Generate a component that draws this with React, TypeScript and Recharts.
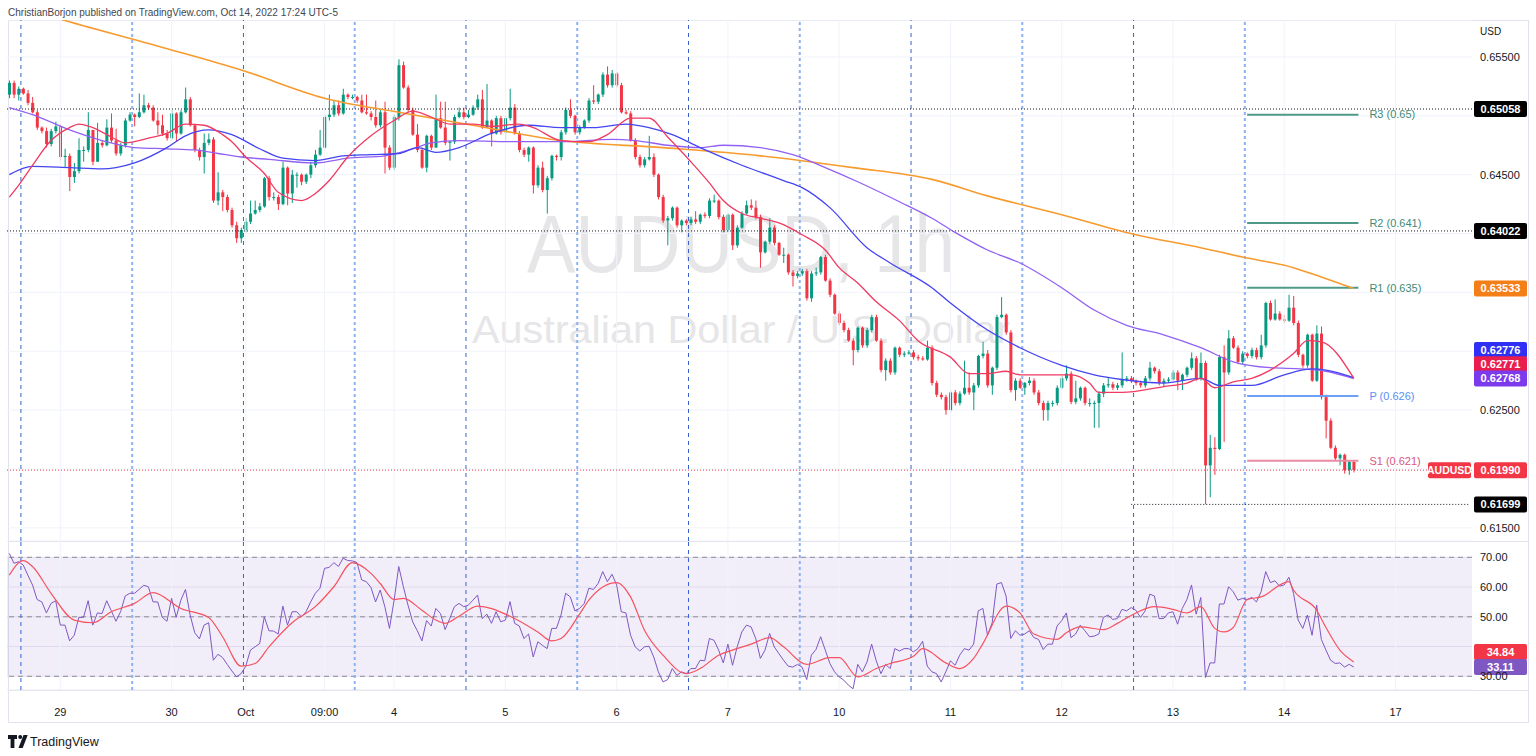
import React from "react";
import {
  ComposedChart,
  Bar,
  Line,
  XAxis,
  YAxis,
  CartesianGrid,
  ReferenceLine,
  ReferenceArea,
} from "recharts";

const GREEN = "#089981";
const RED = "#f23645";
const GRID = "#f0f3fa";

// hourly AUDUSD bars, Sep 28 13:00 -> Oct 14 15:00 (weekend removed)
const firstOpen = 0.6518;
const closes = [
  0.6528, 0.6518, 0.6523, 0.6519, 0.6511, 0.6503, 0.649, 0.6487, 0.6476, 0.6487,
  0.6491, 0.6465, 0.6466, 0.6448, 0.6453, 0.6471, 0.6471, 0.6488, 0.6461, 0.6477,
  0.6475, 0.649, 0.6479, 0.6468, 0.6475, 0.6496, 0.6501, 0.6499, 0.6503, 0.6509,
  0.6507, 0.6496, 0.6492, 0.6485, 0.6481, 0.6502, 0.6485, 0.6503, 0.6514, 0.6492,
  0.6471, 0.6465, 0.6477, 0.648, 0.6428, 0.6435, 0.6431, 0.642, 0.6407, 0.6396,
  0.6403, 0.641, 0.6417, 0.642, 0.6423, 0.6447, 0.6431, 0.6431, 0.6425, 0.6456,
  0.6434, 0.645, 0.645, 0.6444, 0.645, 0.6458, 0.6467, 0.6473, 0.6499, 0.6501,
  0.6509, 0.6502, 0.6518, 0.6516, 0.6516, 0.6513, 0.6503, 0.6502, 0.6499, 0.6492,
  0.6503, 0.6473, 0.6456, 0.6499, 0.6543, 0.6524, 0.6505, 0.6484, 0.6471, 0.6456,
  0.6483, 0.6473, 0.6498, 0.649, 0.6477, 0.6478, 0.6499, 0.6503, 0.6499, 0.6501,
  0.6507, 0.6514, 0.649, 0.6496, 0.6485, 0.6498, 0.6486, 0.6498, 0.6507, 0.6485,
  0.6471, 0.6467, 0.6473, 0.6441, 0.6456, 0.6437, 0.6447, 0.6466, 0.6465, 0.6486,
  0.6505, 0.65, 0.6486, 0.649, 0.6496, 0.6513, 0.6512, 0.6518, 0.6535, 0.6526,
  0.6536, 0.6526, 0.6503, 0.6502, 0.6479, 0.6465, 0.6458, 0.6463, 0.6465, 0.645,
  0.6431, 0.6411, 0.6413, 0.6422, 0.6407, 0.6411, 0.6409, 0.6412, 0.641, 0.6416,
  0.6415, 0.6428, 0.6428, 0.6414, 0.6403, 0.6416, 0.639, 0.6405, 0.6417, 0.6424,
  0.6422, 0.6414, 0.6384, 0.6393, 0.6405, 0.6392, 0.6382, 0.6382, 0.6367, 0.6364,
  0.6366, 0.6368, 0.6345, 0.6366, 0.6367, 0.638, 0.636, 0.6348, 0.6332, 0.6324,
  0.6318, 0.6309, 0.6301, 0.632, 0.6305, 0.6318, 0.6329, 0.6309, 0.6284, 0.6292,
  0.6282, 0.6303, 0.6297, 0.6298, 0.6299, 0.6295, 0.6294, 0.6293, 0.6303, 0.6273,
  0.6263, 0.6261, 0.625, 0.6265, 0.6256, 0.6264, 0.6269, 0.6265, 0.6271, 0.6296,
  0.6298, 0.6271, 0.6286, 0.6329, 0.6331, 0.6316, 0.6267, 0.6275, 0.6269, 0.6273,
  0.6275, 0.6265, 0.6256, 0.625, 0.6256, 0.6256, 0.6269, 0.6277, 0.6281, 0.6257,
  0.626, 0.6269, 0.6256, 0.6256, 0.6256, 0.6264, 0.6271, 0.6272, 0.6269, 0.6271,
  0.6276, 0.6277, 0.6275, 0.6273, 0.6271, 0.6277, 0.6286, 0.6283, 0.6273, 0.6275,
  0.6276, 0.6282, 0.6275, 0.628, 0.6286, 0.6294, 0.6277, 0.629, 0.6203, 0.6218,
  0.6217, 0.6295, 0.6282, 0.6311, 0.6303, 0.6291, 0.6298, 0.6296, 0.6301, 0.6295,
  0.6305, 0.6341, 0.6327, 0.6332, 0.6327, 0.6326, 0.6337, 0.6324, 0.6297, 0.6288,
  0.6314, 0.6275, 0.6315, 0.6261, 0.6241, 0.6218, 0.6209, 0.6212, 0.6199, 0.6206,
  0.6199,
];
const highs = [
  0.653, 0.653, 0.6525, 0.6524, 0.6522, 0.6516, 0.6505, 0.6491, 0.649, 0.6489,
  0.6495, 0.6493, 0.6472, 0.6468, 0.646, 0.6481, 0.6474, 0.6503, 0.6485, 0.6494,
  0.6479, 0.6497, 0.6502, 0.6489, 0.6477, 0.6498, 0.6503, 0.6502, 0.6519, 0.6518,
  0.6511, 0.6509, 0.6503, 0.6501, 0.6488, 0.6505, 0.6503, 0.6505, 0.6524, 0.6516,
  0.6493, 0.6473, 0.6485, 0.6485, 0.6482, 0.6452, 0.6437, 0.6433, 0.6422, 0.641,
  0.6405, 0.6413, 0.6428, 0.6428, 0.6426, 0.6448, 0.6449, 0.6435, 0.6433, 0.6461,
  0.6457, 0.6454, 0.6452, 0.6451, 0.6451, 0.6461, 0.6471, 0.6488, 0.6501, 0.6518,
  0.6513, 0.6513, 0.6523, 0.6519, 0.6518, 0.6517, 0.6518, 0.6518, 0.6504, 0.6513,
  0.6505, 0.6512, 0.6475, 0.6501, 0.6548, 0.6546, 0.6526, 0.6507, 0.6493, 0.6473,
  0.6484, 0.6484, 0.6518, 0.6512, 0.6512, 0.6479, 0.6501, 0.6507, 0.6507, 0.6505,
  0.6509, 0.6518, 0.6522, 0.6527, 0.6497, 0.65, 0.65, 0.65, 0.6523, 0.651,
  0.6487, 0.6473, 0.6474, 0.6474, 0.6458, 0.6461, 0.6449, 0.6467, 0.6467, 0.6488,
  0.6507, 0.6514, 0.6501, 0.6492, 0.6497, 0.6515, 0.6526, 0.6519, 0.6537, 0.6542,
  0.6539, 0.6537, 0.6528, 0.6505, 0.6504, 0.6481, 0.6467, 0.6465, 0.6483, 0.6468,
  0.6451, 0.6433, 0.6415, 0.6423, 0.6423, 0.6412, 0.6412, 0.6414, 0.6419, 0.6417,
  0.6418, 0.643, 0.6433, 0.6429, 0.6416, 0.6417, 0.6417, 0.6407, 0.6419, 0.6428,
  0.6429, 0.6428, 0.6416, 0.6394, 0.6413, 0.6407, 0.6393, 0.6388, 0.6383, 0.6369,
  0.6368, 0.637, 0.637, 0.6368, 0.6371, 0.6381, 0.6382, 0.6362, 0.6349, 0.6334,
  0.6326, 0.632, 0.6311, 0.6321, 0.6321, 0.632, 0.6331, 0.6331, 0.6311, 0.6294,
  0.6294, 0.6304, 0.6304, 0.63, 0.6301, 0.6301, 0.6297, 0.6296, 0.6309, 0.6305,
  0.6275, 0.6265, 0.6263, 0.6267, 0.6267, 0.6266, 0.6292, 0.6282, 0.6273, 0.6297,
  0.6308, 0.6301, 0.6287, 0.6331, 0.6346, 0.6332, 0.6318, 0.6277, 0.6277, 0.6274,
  0.6278, 0.6277, 0.6267, 0.6258, 0.6258, 0.6258, 0.6271, 0.6279, 0.6288, 0.6283,
  0.6275, 0.627, 0.627, 0.626, 0.6258, 0.6266, 0.6273, 0.6278, 0.6274, 0.6273,
  0.6299, 0.6279, 0.6279, 0.6276, 0.6275, 0.6279, 0.6291, 0.6287, 0.6285, 0.6277,
  0.6278, 0.6284, 0.6284, 0.6281, 0.6287, 0.6299, 0.6296, 0.6299, 0.6292, 0.6229,
  0.6227, 0.6297, 0.6305, 0.6318, 0.6313, 0.6305, 0.63, 0.6299, 0.6303, 0.6303,
  0.6314, 0.6342, 0.6343, 0.6344, 0.6334, 0.6331, 0.6348, 0.6347, 0.6326, 0.6298,
  0.6315, 0.6315, 0.6322, 0.6321, 0.6263, 0.6243, 0.622, 0.6213, 0.6213, 0.6207,
  0.6207,
];
const lows = [
  0.6515, 0.6515, 0.6513, 0.6518, 0.6509, 0.6502, 0.6488, 0.6485, 0.6473, 0.6474,
  0.6485, 0.6462, 0.6456, 0.6436, 0.6443, 0.6451, 0.6461, 0.6469, 0.6458, 0.6461,
  0.6473, 0.6474, 0.6477, 0.6466, 0.6466, 0.6473, 0.6495, 0.6491, 0.6498, 0.6502,
  0.6505, 0.6495, 0.6484, 0.6483, 0.6479, 0.648, 0.6478, 0.6484, 0.6502, 0.6491,
  0.6469, 0.6462, 0.6451, 0.6475, 0.6426, 0.6424, 0.6419, 0.6418, 0.6405, 0.6392,
  0.6392, 0.6401, 0.6408, 0.6416, 0.6418, 0.6422, 0.6428, 0.6428, 0.642, 0.6424,
  0.6424, 0.6426, 0.6439, 0.6441, 0.6442, 0.6447, 0.6456, 0.6466, 0.6472, 0.6496,
  0.6499, 0.65, 0.6501, 0.6514, 0.6514, 0.6511, 0.6502, 0.6501, 0.6496, 0.649,
  0.649, 0.6451, 0.6454, 0.6454, 0.6496, 0.6523, 0.6503, 0.6483, 0.6469, 0.6455,
  0.6452, 0.6471, 0.6473, 0.6489, 0.6475, 0.6462, 0.6476, 0.6498, 0.6497, 0.6498,
  0.65, 0.6505, 0.6489, 0.649, 0.6474, 0.6484, 0.6484, 0.6479, 0.6496, 0.6484,
  0.6469, 0.6465, 0.6461, 0.6434, 0.6439, 0.6435, 0.6417, 0.6445, 0.6462, 0.6462,
  0.6484, 0.6498, 0.6484, 0.6484, 0.6489, 0.6494, 0.651, 0.651, 0.6516, 0.6524,
  0.6524, 0.6524, 0.6502, 0.6501, 0.6478, 0.6463, 0.6456, 0.6456, 0.6462, 0.6448,
  0.6429, 0.6409, 0.639, 0.6411, 0.6405, 0.6401, 0.6407, 0.6407, 0.6408, 0.6408,
  0.6413, 0.6413, 0.6426, 0.6412, 0.6401, 0.6401, 0.6386, 0.6388, 0.6404, 0.6416,
  0.642, 0.6412, 0.6371, 0.6383, 0.6391, 0.639, 0.6381, 0.6375, 0.6365, 0.6355,
  0.6362, 0.6364, 0.6343, 0.6342, 0.6364, 0.6365, 0.6359, 0.6346, 0.6331, 0.6322,
  0.6316, 0.6308, 0.6288, 0.6299, 0.6303, 0.6303, 0.6316, 0.6308, 0.6282, 0.6275,
  0.628, 0.628, 0.6295, 0.6295, 0.6297, 0.6293, 0.6292, 0.6292, 0.6292, 0.6271,
  0.6261, 0.6259, 0.6246, 0.6248, 0.6254, 0.6254, 0.6263, 0.6263, 0.625, 0.6269,
  0.6294, 0.6269, 0.6263, 0.6284, 0.6328, 0.6314, 0.6265, 0.6258, 0.6268, 0.6263,
  0.6271, 0.6263, 0.6254, 0.6241, 0.6241, 0.6253, 0.6254, 0.6268, 0.6275, 0.6255,
  0.6255, 0.6258, 0.6254, 0.6253, 0.6235, 0.6235, 0.6261, 0.6269, 0.6267, 0.6267,
  0.6269, 0.6274, 0.6273, 0.6271, 0.6269, 0.6269, 0.6275, 0.6281, 0.6271, 0.627,
  0.6273, 0.6275, 0.6267, 0.6267, 0.6278, 0.6284, 0.6275, 0.6275, 0.617, 0.6176,
  0.6195, 0.6216, 0.6223, 0.628, 0.6302, 0.6289, 0.6289, 0.6294, 0.6294, 0.6293,
  0.6293, 0.6303, 0.6326, 0.6326, 0.6326, 0.6324, 0.6325, 0.6322, 0.6295, 0.6286,
  0.6286, 0.6274, 0.6274, 0.6259, 0.6226, 0.6217, 0.6207, 0.6203, 0.6196, 0.6195,
  0.6197,
];

// moving averages, read at [bar, price]
const maRed: [number, number][] = [
  [0, 0.6431], [2, 0.6441], [5, 0.6458], [9, 0.6479], [13, 0.649], [15, 0.6493],
  [18, 0.649], [22, 0.6482], [25, 0.6477], [30, 0.6481], [34, 0.6485], [38, 0.6493],
  [42, 0.6492], [46, 0.6484], [48, 0.6478], [51, 0.6465], [55, 0.6451], [58, 0.6435],
  [63, 0.6428], [66, 0.6434], [69, 0.6445], [73, 0.6465], [78, 0.6483], [83, 0.6496],
  [87, 0.6504], [91, 0.6499], [95, 0.6493], [100, 0.6493], [104, 0.6491], [110, 0.6493],
  [113, 0.649], [119, 0.6479], [125, 0.6478], [129, 0.6484], [134, 0.6498], [138, 0.6498],
  [142, 0.6482], [147, 0.6461], [151, 0.6443], [154, 0.6428], [158, 0.6417], [162, 0.6413],
  [166, 0.6409], [171, 0.6399], [176, 0.6386], [179, 0.6371], [183, 0.6358], [187, 0.6342],
  [192, 0.6326], [196, 0.6309], [203, 0.6295], [207, 0.6281], [211, 0.6281], [215, 0.6283],
  [218, 0.628], [225, 0.628], [229, 0.628], [233, 0.6273], [235, 0.6265], [240, 0.6265],
  [249, 0.627], [254, 0.6273], [257, 0.6277], [260, 0.6269], [264, 0.6274], [268, 0.6277],
  [272, 0.6284], [277, 0.6298], [280, 0.6309], [283, 0.6308], [290, 0.62771],
];
const maBlue: [number, number][] = [
  [0, 0.645], [5, 0.6457], [13, 0.6456], [20, 0.6455], [23, 0.6456], [27, 0.646],
  [34, 0.6473], [38, 0.6483], [43, 0.6488], [48, 0.6484], [54, 0.6472], [59, 0.6464],
  [66, 0.6462], [72, 0.6466], [78, 0.6467], [84, 0.6468], [88, 0.6473], [92, 0.6469],
  [97, 0.6473], [104, 0.6485], [112, 0.6492], [119, 0.649], [126, 0.649], [133, 0.6493],
  [138, 0.649], [143, 0.6484], [149, 0.6473], [158, 0.6458], [167, 0.6445], [171, 0.6439],
  [177, 0.6422], [185, 0.6388], [190, 0.6375], [199, 0.6354], [203, 0.6341], [211, 0.6318],
  [218, 0.6303], [227, 0.6288], [234, 0.628], [240, 0.6276], [249, 0.6273], [257, 0.6277],
  [261, 0.6271], [268, 0.6271], [275, 0.628], [281, 0.6285], [284, 0.6284], [290, 0.62776],
];
const maPurple: [number, number][] = [
  [0, 0.6507], [5, 0.6501], [13, 0.6488], [20, 0.6479], [27, 0.6473], [34, 0.6472],
  [40, 0.6471], [45, 0.6468], [50, 0.6465], [56, 0.6463], [66, 0.646], [73, 0.6464],
  [81, 0.6466], [87, 0.6472], [91, 0.6477], [97, 0.6479], [108, 0.6478], [119, 0.6478],
  [130, 0.648], [135, 0.6479], [142, 0.6475], [149, 0.6473], [154, 0.6475], [162, 0.6473],
  [169, 0.6467], [176, 0.6456], [183, 0.6444], [192, 0.6427], [199, 0.6413], [204, 0.6401],
  [211, 0.6386], [218, 0.6375], [227, 0.6354], [234, 0.6335], [241, 0.6322], [249, 0.6314],
  [257, 0.6303], [264, 0.6291], [272, 0.6286], [279, 0.6285], [284, 0.6283], [290, 0.62768],
];
const maOrange: [number, number][] = [
  [0, 0.6595], [12, 0.6581], [35, 0.6556], [50, 0.6539], [68, 0.6515], [84, 0.6503],
  [100, 0.6492], [119, 0.6479], [141, 0.6473], [162, 0.6466], [182, 0.6456], [199, 0.6446],
  [211, 0.6432], [227, 0.6416], [243, 0.6399], [257, 0.6388], [266, 0.638], [277, 0.6371],
  [283, 0.6363], [290, 0.63533],
];

// RSI(14) per bar and its moving average
const rsi = [
  71.3, 68, 68.5, 67.4, 64, 60.7, 55.8, 55, 51.3, 54.5,
  55.4, 47.2, 47.2, 41.9, 43.8, 49.8, 49.8, 55.4, 47.2, 51.3,
  51.1, 55.4, 52, 48.5, 51.7, 57, 57.9, 57.9, 59.2, 60.6,
  60.1, 55, 55, 49.8, 48.5, 56.2, 49.8, 55.6, 59.2, 50.6,
  44.6, 42.6, 47.2, 48, 35.4, 37.4, 36.3, 34, 31.8, 29.8,
  30.9, 33.4, 38.8, 39.9, 41, 50, 45.3, 45.2, 44.2, 53.6,
  47.2, 51.7, 51.7, 50, 51.7, 55, 57.9, 59.6, 66.3, 66.6,
  68.2, 66.9, 69.7, 68.9, 68.8, 68.2, 62.4, 61.8, 59.9, 55,
  59, 53.4, 46.1, 55.6, 66.9, 60.1, 53.9, 48.3, 45.3, 41.9,
  48.7, 46.9, 52.8, 51.1, 45.7, 49.4, 53.4, 54.5, 53.4, 53.9,
  55.6, 57.3, 49.4, 50.9, 47.8, 51.7, 48.3, 48.9, 55.1, 47.8,
  46.9, 42.7, 44.2, 36.5, 41.6, 40.4, 39.3, 46.1, 46.1, 50.6,
  57.9, 56.7, 52, 52.8, 54.5, 59.6, 59.2, 61.2, 65.2, 61.8,
  64.3, 60.7, 51.7, 51.3, 43.8, 39.9, 38.5, 39.9, 40.1, 36.5,
  31.5, 28.1, 28.9, 32.6, 30.3, 31.5, 30.9, 32.6, 32.6, 35.4,
  35.2, 42.7, 42.1, 38.8, 34.5, 40.8, 33.7, 39.9, 44.9, 47.2,
  46.6, 42.7, 36, 38.8, 44.4, 39.9, 37.6, 35.4, 33.4, 33.1,
  34, 33.1, 28.9, 37.1, 39, 43.3, 38.8, 34.3, 31.5, 29.8,
  28.7, 27, 25.8, 34, 31.5, 34.8, 40.8, 35.2, 30.9, 34,
  32.6, 39.3, 38.5, 39.3, 39.3, 38.2, 39.3, 41.8, 33.4, 31.5,
  30.9, 28.1, 31.5, 35.2, 33.7, 37.1, 39.3, 38.8, 40.8, 52,
  52.8, 43.8, 48, 61, 61.5, 57, 42.7, 45.3, 43.8, 44.2,
  45.3, 43, 42.4, 39, 40.8, 40.8, 46.9, 48.7, 51.3, 43,
  44.2, 47.2, 45.3, 43.3, 43.5, 44.2, 49.8, 50.6, 49.1, 49.4,
  52.5, 52, 53.1, 52.2, 49.8, 52, 57.6, 57, 49.4, 49.4,
  51.3, 51.7, 47.5, 52.8, 55.8, 60.7, 50.9, 56.5, 29.6, 34.5,
  34.5, 54.3, 54.3, 60.1, 58.4, 55.6, 56.2, 55.8, 56.5, 55,
  58.4, 65.2, 61.5, 62.1, 60.3, 60.7, 63.3, 57.9, 48.9, 46.1,
  50.6, 43.8, 53.9, 42.4, 38.8, 35.4, 34.3, 34.5, 33.1, 34,
  33.11,
];
const rsiAvg: [number, number][] = [
  [0, 64], [3, 68.9], [5, 66.9], [9, 57.9], [14, 48.9], [18, 48], [22, 51.7], [27, 54.5],
  [31, 58.1], [37, 52.8], [43, 49.8], [46, 43.3], [50, 33.4], [53, 34.3], [56, 39.9],
  [61, 48], [66, 53.4], [70, 60.1], [74, 68.2], [78, 64.6], [80, 61.2], [83, 55.8],
  [85, 56.2], [89, 52.2], [92, 48.9], [94, 47.8], [97, 50.2], [101, 53.6], [108, 50.2],
  [114, 44.9], [117, 41.9], [119, 42.7], [123, 50.9], [125, 55.6], [131, 61.5], [134, 56.7],
  [137, 45.5], [141, 37.1], [146, 30.9], [149, 32.6], [153, 37.1], [156, 38.8], [160, 40.8],
  [164, 43], [167, 39.9], [172, 34], [177, 36.3], [179, 36.3], [183, 29.8], [187, 32.6],
  [190, 34.3], [195, 36.7], [197, 39.3], [202, 34.5], [205, 32.6], [208, 36], [210, 41],
  [215, 53.6], [218, 51.3], [221, 44.2], [226, 42.4], [228, 44.6], [231, 46.6], [236, 45.7],
  [239, 47.8], [243, 51.3], [247, 53.4], [251, 52.5], [254, 51.3], [257, 53.4], [260, 46.1],
  [262, 44.9], [264, 46.4], [267, 55.8], [270, 56.7], [276, 61.8], [277, 59], [282, 52.2],
  [284, 46.4], [287, 38.8], [290, 34.84],
];

const timeTicks = [11, 35, 51, 68, 83, 107, 131, 155, 179, 203, 227, 251, 275, 299];
const timeLabels = ["29", "30", "Oct", "09:00", "4", "5", "6", "7", "10", "11", "12", "13", "14", "17"];
const sessionBreaks = [3, 27, 51, 75, 99, 123, 147, 171, 195, 219, 243, 267];

const priceTicks = [0.615, 0.62, 0.625, 0.63, 0.635, 0.64, 0.645, 0.65, 0.655];
const priceTicksCovered = [0.62, 0.63, 0.635, 0.64, 0.65];
const rsiTicks = [30, 40, 50, 60, 70];
const rsiTicksCovered = [40];

const pivotKeys = ["r3", "r2", "r1", "p", "s1"];
const pivotValues = [0.6501, 0.6409, 0.6354, 0.6262, 0.6207];
const pivotTexts = ["R3 (0.65)", "R2 (0.641)", "R1 (0.635)", "P (0.626)", "S1 (0.621)"];
const pivotColors = ["#4f9a86", "#4f9a86", "#4f9a86", "#6ea1f5", "#ea8ba4"];
const pivotTextColors = ["#3e8b77", "#3e8b77", "#3e8b77", "#5b8ff0", "#d9587f"];
const pivotFrom = 267;
const pivotTo = 291;

const markedLevels = [0.65058, 0.64022];
const sessionLow = 0.61699;
const sessionLowFrom = 242;
const lastPrice = 0.6199;

const SLOTS = 316;

const priceRows: any[] = Array.from({ length: SLOTS }, (_, t) => {
  const row: any = { t };
  if (t < closes.length) {
    row.o = t === 0 ? firstOpen : closes[t - 1];
    row.c = closes[t];
    row.h = highs[t];
    row.l = lows[t];
  }
  return row;
});
maRed.forEach(([t, v]) => (priceRows[t].ema = v));
maBlue.forEach(([t, v]) => (priceRows[t].mid = v));
maPurple.forEach(([t, v]) => (priceRows[t].slow = v));
maOrange.forEach(([t, v]) => (priceRows[t].long = v));
pivotKeys.forEach((k, i) => {
  for (let t = pivotFrom; t <= pivotTo; t++) priceRows[t][k] = pivotValues[i];
});
for (let t = sessionLowFrom; t < SLOTS; t++) priceRows[t].lowLine = sessionLow;

const rsiRows: any[] = Array.from({ length: SLOTS }, (_, t) => ({
  t,
  rsi: t < rsi.length ? rsi[t] : null,
}));
rsiAvg.forEach(([t, v]) => (rsiRows[t].avg = v));

const candleRange = (d: any) =>
  d.c == null ? null : [Math.min(d.l, d.o, d.c), Math.max(d.h, d.o, d.c)];

const Candle = (props: any) => {
  const { x, y, width, height, payload } = props;
  if (!payload || payload.c == null || !isFinite(y) || !isFinite(height)) return null;
  const top = Math.min(y, y + height);
  const bottom = Math.max(y, y + height);
  const hi = Math.max(payload.h, payload.o, payload.c);
  const lo = Math.min(payload.l, payload.o, payload.c);
  const span = hi - lo || 1e-9;
  const toY = (v: number) => top + ((hi - v) / span) * (bottom - top);
  const color = payload.c >= payload.o ? GREEN : RED;
  const cx = x + width / 2;
  const bTop = toY(Math.max(payload.o, payload.c));
  const bBot = toY(Math.min(payload.o, payload.c));
  return (
    <g>
      <line x1={cx} x2={cx} y1={top} y2={bottom} stroke={color} strokeWidth={1} />
      <rect x={cx - 1.5} y={bTop} width={3} height={Math.max(bBot - bTop, 1)} fill={color} />
    </g>
  );
};

// axis label that leaves room for the value badges drawn over it
const axisTick = (covered: number[], digits: number) => (props: any) => {
  const v = props.payload?.value;
  if (covered.some((c) => Math.abs(c - v) < 1e-9)) return <g />;
  return (
    <text x={props.x} y={props.y} dy="0.35em" textAnchor="start" fontSize={11} fill="#131722">
      {Number(v).toFixed(digits)}
    </text>
  );
};

const badge = (text: string, bg: string, dy = 0, tag?: string) => (props: any) => {
  const vb = props.viewBox || {};
  const x = vb.x + vb.width;
  const y = vb.y + dy;
  return (
    <g>
      {tag ? (
        <g>
          <rect x={x - 44} y={y - 8} width={43} height={16} rx={2} fill={bg} />
          <text x={x - 22.5} y={y} dy="0.35em" textAnchor="middle" fill="#fff" fontSize={10.5} fontWeight={700}>
            {tag}
          </text>
        </g>
      ) : null}
      <rect x={x + 2} y={y - 8} width={53} height={16} rx={2} fill={bg} />
      <text x={x + 28.5} y={y} dy="0.35em" textAnchor="middle" fill="#fff" fontSize={11} fontWeight={700}>
        {text}
      </text>
    </g>
  );
};

const pivotLabel = (text: string, color: string) => (props: any) => {
  if (props.index !== pivotTo) return null;
  const x = props.x ?? props.viewBox?.x;
  const y = props.y ?? props.viewBox?.y;
  if (x == null || y == null) return null;
  return (
    <text x={x + 11} y={y} dy="0.35em" fill={color} fontSize={11}>
      {text}
    </text>
  );
};

const sessionLine = (t: number, i: number) => (
  <ReferenceLine
    key={`s${t}`}
    x={t}
    position="start"
    stroke={i % 2 === 0 ? "#3563cf" : "#8db2f2"}
    strokeWidth={i % 2 === 0 ? 1 : 2}
    strokeDasharray={i % 2 === 0 ? "4 4" : "3 3"}
  />
);

const dayLine = (t: number) => <ReferenceLine key={`d${t}`} x={t} stroke={GRID} />;

const FONT = "'Liberation Sans', Arial, sans-serif";

export default function App() {
  return (
    <div
      style={{
        position: "relative",
        width: 1536,
        height: 756,
        background: "#fff",
        overflow: "hidden",
        fontFamily: FONT,
      }}
    >
      <style>{`body{margin:0}`}</style>

      {/* watermark */}
      <svg width={1536} height={756} style={{ position: "absolute", left: 0, top: 0 }}>
        <text x={527} y={272} fontSize={82} fill="#e6e6e8" textLength={428} lengthAdjust="spacingAndGlyphs" fontFamily={FONT}>
          AUDUSD, 1h
        </text>
        <text x={472} y={343} fontSize={39} fill="#e6e6e8" textLength={538} lengthAdjust="spacingAndGlyphs" fontFamily={FONT}>
          Australian Dollar / U.S. Dollar
        </text>
      </svg>

      {/* frame */}
      <div style={{ position: "absolute", left: 8, top: 20, width: 1519, height: 701, border: "1px solid #e0e3eb" }} />
      <div style={{ position: "absolute", left: 8, top: 541, width: 1520, height: 1, background: "#e0e3eb" }} />
      <div style={{ position: "absolute", left: 8, top: 690, width: 1520, height: 1, background: "#e0e3eb" }} />

      {/* price pane */}
      <div style={{ position: "absolute", left: 7, top: 20 }}>
        <ComposedChart
          width={1521}
          height={521}
          data={priceRows}
          margin={{ top: 0, right: 0, bottom: 0, left: 0 }}
          barCategoryGap={0}
          barGap={0}
        >
          <CartesianGrid vertical={false} stroke={GRID} />
          {timeTicks.map(dayLine)}
          <XAxis dataKey="t" type="category" scale="band" hide />
          <YAxis
            orientation="right"
            width={56}
            domain={[0.61388, 0.65814]}
            allowDataOverflow
            ticks={priceTicks}
            tick={axisTick(priceTicksCovered, 5)}
            axisLine={false}
            tickLine={false}
            label={{ value: "USD", position: "insideTopLeft", offset: 8, fontSize: 10, fill: "#131722" }}
          />
          {sessionBreaks.map(sessionLine)}
          {markedLevels.map((v) => (
            <ReferenceLine
              key={`m${v}`}
              y={v}
              stroke="#131722"
              strokeDasharray="1 2"
              label={badge(v.toFixed(5), "#000000")}
            />
          ))}
          <ReferenceLine y={lastPrice} stroke={RED} strokeDasharray="1 2" label={badge(lastPrice.toFixed(5), RED, 0, "AUDUSD")} />
          {pivotKeys.map((k, i) => (
            <Line
              key={k}
              dataKey={k}
              stroke={pivotColors[i]}
              strokeWidth={2}
              dot={false}
              isAnimationActive={false}
              label={pivotLabel(pivotTexts[i], pivotTextColors[i])}
            />
          ))}
          <Line dataKey="lowLine" stroke="#131722" strokeWidth={1} strokeDasharray="1 2" dot={false} isAnimationActive={false} />
          <Bar dataKey={candleRange} shape={<Candle />} isAnimationActive={false} />
          <Line dataKey="long" type="monotone" stroke="#f89b2e" strokeWidth={1.6} dot={false} connectNulls isAnimationActive={false} />
          <Line dataKey="slow" type="monotone" stroke="#9161f5" strokeWidth={1.3} dot={false} connectNulls isAnimationActive={false} />
          <Line dataKey="mid" type="monotone" stroke="#4444f2" strokeWidth={1.3} dot={false} connectNulls isAnimationActive={false} />
          <Line dataKey="ema" type="monotone" stroke="#f03a62" strokeWidth={1.3} dot={false} connectNulls isAnimationActive={false} />
          <ReferenceLine y={sessionLow} stroke="none" label={badge(sessionLow.toFixed(5), "#000000")} />
          <ReferenceLine y={maOrange[maOrange.length - 1][1]} stroke="none" label={badge("0.63533", "#f57f17")} />
          <ReferenceLine y={maBlue[maBlue.length - 1][1]} stroke="none" label={badge("0.62776", "#3030f5", -27.6)} />
          <ReferenceLine y={maRed[maRed.length - 1][1]} stroke="none" label={badge("0.62771", "#e91e4e", -14)} />
          <ReferenceLine y={maPurple[maPurple.length - 1][1]} stroke="none" label={badge("0.62768", "#7c3aed", 0)} />
        </ComposedChart>
      </div>

      {/* RSI pane + time axis */}
      <div style={{ position: "absolute", left: 7, top: 541 }}>
        <ComposedChart width={1521} height={181} data={rsiRows} margin={{ top: 0, right: 0, bottom: 0, left: 0 }}>
          <ReferenceArea y1={30} y2={70} fill="#7e57c2" fillOpacity={0.1} stroke="none" />
          <CartesianGrid vertical={false} stroke="#ebe8f3" />
          {timeTicks.map(dayLine)}
          <XAxis
            dataKey="t"
            type="category"
            scale="band"
            height={32}
            ticks={timeTicks}
            interval={0}
            tickFormatter={(v: number) => timeLabels[timeTicks.indexOf(v)] ?? ""}
            tick={{ fontSize: 11, fill: "#131722" }}
            tickMargin={12}
            axisLine={false}
            tickLine={false}
          />
          <YAxis
            orientation="right"
            width={56}
            domain={[25.39, 75.48]}
            allowDataOverflow
            ticks={rsiTicks}
            tick={axisTick(rsiTicksCovered, 2)}
            axisLine={false}
            tickLine={false}
          />
          {[70, 50, 30].map((v) => (
            <ReferenceLine key={`r${v}`} y={v} stroke="#8a8d96" strokeDasharray="5 4" />
          ))}
          {sessionBreaks.map(sessionLine)}
          <Line dataKey="rsi" stroke="#7e57c2" strokeWidth={1} dot={false} isAnimationActive={false} />
          <Line dataKey="avg" type="monotone" stroke="#f7525f" strokeWidth={1.2} dot={false} connectNulls isAnimationActive={false} />
          <ReferenceLine y={rsiAvg[rsiAvg.length - 1][1]} stroke="none" label={badge("34.84", RED, -10)} />
          <ReferenceLine y={rsi[rsi.length - 1]} stroke="none" label={badge("33.11", "#7e57c2", 0)} />
        </ComposedChart>
      </div>

      {/* header and footer */}
      <svg width={1536} height={756} style={{ position: "absolute", left: 0, top: 0, pointerEvents: "none" }}>
        <text x={8} y={16} fontSize={11.5} fill="#434651" textLength={330} lengthAdjust="spacingAndGlyphs" fontFamily={FONT}>
          ChristianBorjon published on TradingView.com, Oct 14, 2022 17:24 UTC-5
        </text>
        <g fill="#131722">
          <path d="M8 735h9v4h-2.6v9h-3.8v-9H8z" />
          <circle cx={20.2} cy={737} r={2} />
          <path d="M23.5 735h4.2l-5 13h-4.2z" />
        </g>
        <text x={30} y={745.5} fontSize={12.5} fill="#131722" fontFamily={FONT}>
          TradingView
        </text>
      </svg>
    </div>
  );
}
